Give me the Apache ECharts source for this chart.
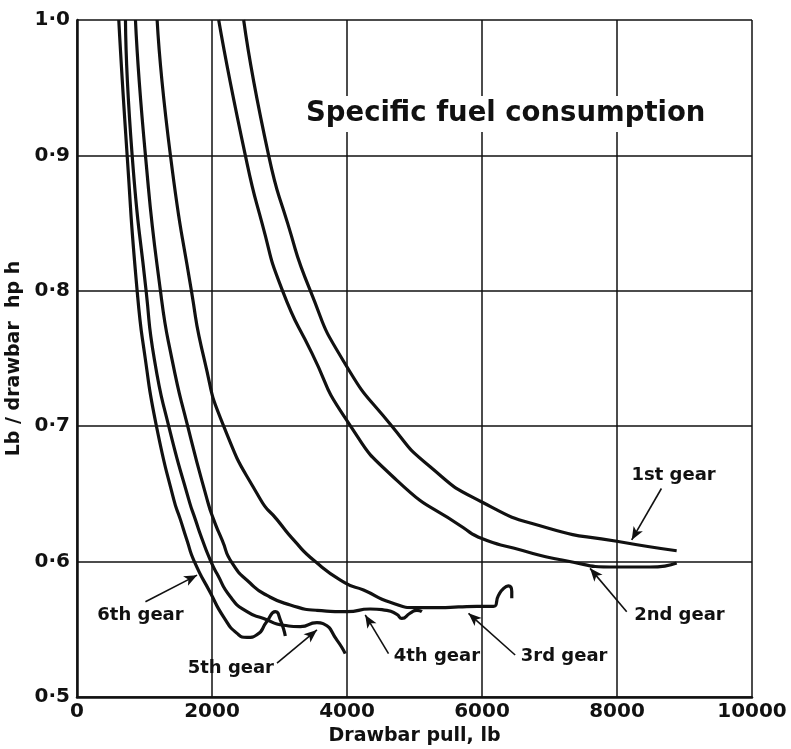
<!DOCTYPE html>
<html>
<head>
    <meta charset="UTF-8">
    <title>Specific fuel consumption</title>
    <script src="https://cdn.jsdelivr.net/npm/echarts/dist/echarts.min.js"></script>
    <style>
        body { margin: 0; background: #fff; }
        #chart { width: 791px; height: 749px; }
    </style>
</head>
<body>
<div id="chart"></div>
<script>
// x ticks and y ticks
var xTicks = [0, 2000, 4000, 6000, 8000, 10000];
var yTicks = [0.5, 0.6, 0.7, 0.8, 0.9, 1.0];

// curves: [drawbar pull lb, lb / drawbar hp h]
var gear1 = [[2469,1.0],[2839,0.900],[3120,0.850],[3449,0.801],[3949,0.748],[4666,0.700],[5232,0.670],[5998,0.644],[6960,0.625],[7996,0.615],[8884,0.608]];
var gear2 = [[2099,1.0],[2494,0.900],[2741,0.850],[3037,0.801],[3480,0.754],[3975,0.706],[4739,0.660],[5725,0.625],[5998,0.617],[6465,0.610],[7206,0.601],[7996,0.596],[8489,0.596],[8884,0.599]];
var gear3 = [[1187,1.0],[1384,0.900],[1695,0.800],[1887,0.749],[2173,0.700],[2716,0.646],[2963,0.631],[3209,0.616],[3530,0.600],[3985,0.584],[4245,0.579],[4640,0.570],[5036,0.566],[5380,0.566],[5924,0.567],[6169,0.567],[6243,0.575],[6317,0.580],[6391,0.582],[6441,0.578],[6441,0.573]];
var gear4 = [[866,1.0],[1014,0.900],[1236,0.800],[1409,0.749],[1640,0.700],[1927,0.646],[2025,0.631],[2149,0.616],[2297,0.599],[2568,0.584],[2815,0.575],[3160,0.568],[3555,0.564],[3999,0.563],[4344,0.565],[4591,0.564],[4739,0.561],[4813,0.558],[4936,0.562],[5036,0.564],[5110,0.563]];
var gear5 = [[718,1.0],[817,0.900],[1024,0.800],[1147,0.749],[1359,0.700],[1655,0.646],[1754,0.631],[1858,0.616],[1976,0.601],[2075,0.591],[2272,0.574],[2519,0.563],[2765,0.558],[3061,0.553],[3308,0.552],[3555,0.555],[3653,0.554],[3851,0.542],[3974,0.532]];
var gear6 = [[619,1.0],[743,0.900],[891,0.800],[1014,0.749],[1177,0.700],[1433,0.646],[1532,0.631],[1628,0.616],[1739,0.600],[1976,0.577],[2173,0.559],[2371,0.547],[2519,0.544],[2667,0.546],[2815,0.556],[2938,0.563],[3012,0.557],[3086,0.545]];

// gear labels and their arrows (label position, arrow tail, arrow head)
var gearNames = ['1st gear', '2nd gear', '3rd gear', '4th gear', '5th gear', '6th gear'];
var labelPos = [[8838,0.664],[8925,0.5606],[7216,0.5298],[5331,0.5298],[2279,0.5214],[940,0.5606]];
var arrowFrom = [[8658,0.654],[8144,0.563],[6491,0.531],[4615,0.532],[2963,0.525],[1014,0.5704]];
var arrowTo = [[8218,0.616],[7601,0.595],[5800,0.5618],[4270,0.5606],[3555,0.5495],[1779,0.590]];

var FONT = 'DejaVu Sans';
var INK = '#111';
var chart = echarts.init(document.getElementById('chart'));

function curve(name, data) {
    return {
        name: name, type: 'line', data: data,
        smooth: 0.6, showSymbol: false, clip: true,
        lineStyle: { color: INK, width: 3.2 }
    };
}

var series = [
    curve('1st gear', gear1), curve('2nd gear', gear2), curve('3rd gear', gear3),
    curve('4th gear', gear4), curve('5th gear', gear5), curve('6th gear', gear6)
];

// labels plus arrows
series.push({
    type: 'scatter', symbolSize: 0, silent: true,
    itemStyle: { opacity: 1 },
    data: labelPos.map(function (p, i) { return { value: p, name: gearNames[i] }; }),
    label: {
        show: true, position: 'inside', formatter: '{b}',
        color: INK, fontFamily: FONT, fontWeight: 'bold', fontSize: 18
    },
    markLine: {
        silent: true, symbol: ['none', 'arrow'], symbolSize: [8, 13],
        label: { show: false },
        lineStyle: { color: INK, width: 1.6, type: 'solid' },
        data: arrowFrom.map(function (p, i) {
            return [{ coord: p }, { coord: arrowTo[i] }];
        })
    }
});

chart.setOption({
    animation: false,
    backgroundColor: '#fff',
    title: {
        text: 'Specific fuel consumption',
        left: 300, top: 96,
        backgroundColor: '#fff', padding: [4, 6],
        textStyle: { fontFamily: FONT, fontWeight: 'bold', fontSize: 27.5, color: INK }
    },
    grid: { left: 77, right: 39, top: 20, bottom: 52, outerBoundsMode: 'none' },
    xAxis: {
        type: 'value', min: 0, max: 10000, interval: 2000,
        name: 'Drawbar pull, lb', nameLocation: 'middle', nameGap: 24,
        nameTextStyle: { fontFamily: FONT, fontWeight: 'bold', fontSize: 19, color: INK },
        axisLine: { show: true, lineStyle: { color: INK, width: 2.5 } },
        axisTick: { show: false },
        axisLabel: {
            fontFamily: FONT, fontWeight: 'bold', fontSize: 20, color: INK, margin: 5,
            formatter: function (v) { return xTicks.indexOf(v) >= 0 ? String(v) : ''; }
        },
        splitLine: { show: true, lineStyle: { color: INK, width: 1.5 } }
    },
    yAxis: {
        type: 'value', min: 0.5, max: 1.0, interval: 0.1,
        name: 'Lb / drawbar  hp h', nameLocation: 'middle', nameGap: 45,
        nameTextStyle: { fontFamily: FONT, fontWeight: 'bold', fontSize: 19, color: INK },
        axisLine: { show: true, lineStyle: { color: INK, width: 2.5 } },
        axisTick: { show: false },
        axisLabel: {
            fontFamily: FONT, fontWeight: 'bold', fontSize: 20, color: INK, margin: 7,
            formatter: function (v) {
                var t = yTicks.filter(function (y) { return Math.abs(y - v) < 1e-6; });
                return t.length ? t[0].toFixed(1).replace('.', '\u00b7') : '';
            }
        },
        splitLine: { show: true, lineStyle: { color: INK, width: 1.5 } }
    },
    series: series
});
</script>
</body>
</html>
